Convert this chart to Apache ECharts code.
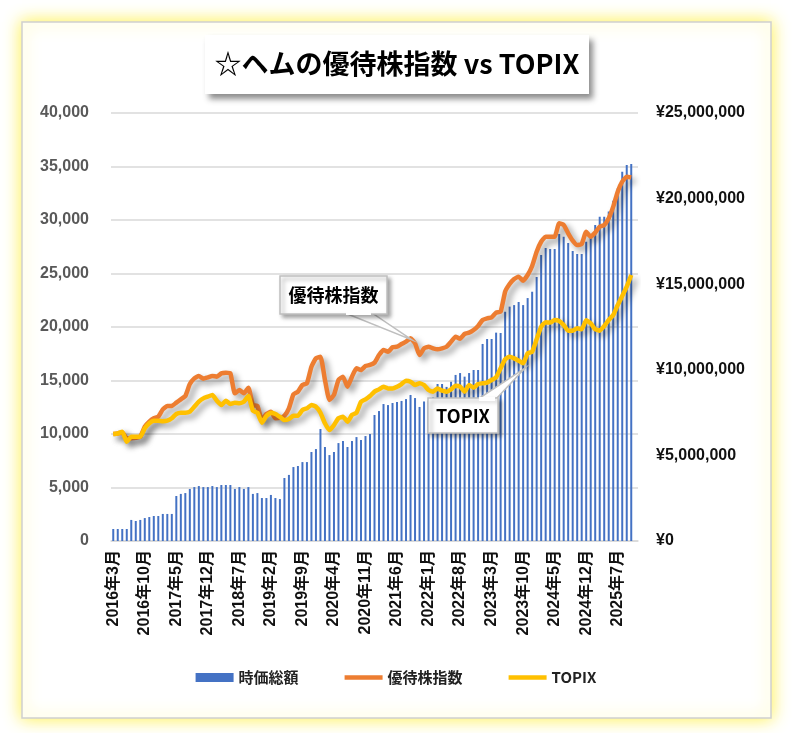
<!DOCTYPE html>
<html>
<head>
<meta charset="utf-8">
<title>☆ヘムの優待株指数 vs TOPIX</title>
<script src="https://cdn.jsdelivr.net/npm/echarts@6/dist/echarts.min.js"></script>
<style>
  html, body { margin: 0; padding: 0; background: #fff; }
  #chart { width: 792px; height: 733px; }
</style>
</head>
<body>
<div id="chart"></div>
<script>
// 月次カテゴリ 2016年3月〜2025年11月 (最終月はデータなし)
var months = [];
for (var y = 2016, m = 3; months.length < 117; m++) {
  if (m > 12) { m = 1; y++; }
  months.push(y + "年" + m + "月");
}

// 時価総額 (円)
var marketValue = [
  700000, 700000, 700000, 700000, 1230000, 1170000, 1230000, 1340000, 1400000, 1460000,
  1460000, 1580000, 1580000, 1580000, 2630000, 2750000, 2800000, 3040000, 3150000, 3210000,
  3150000, 3150000, 3210000, 3150000, 3270000, 3270000, 3270000, 3040000, 3150000, 3040000,
  3150000, 2750000, 2800000, 2510000, 2510000, 2690000, 2510000, 2450000, 3680000, 3860000,
  4320000, 4380000, 4610000, 4610000, 5200000, 5370000, 6540000, 5490000, 5020000, 5200000,
  5720000, 5840000, 5490000, 5840000, 6070000, 5900000, 6130000, 6250000, 7360000, 7590000,
  8000000, 7940000, 8060000, 8120000, 8180000, 8290000, 8530000, 8350000, 7830000, 8150000,
  8200000, 8400000, 9170000, 9170000, 9000000, 9300000, 9700000, 9810000, 9600000, 9810000,
  9990000, 9990000, 11510000, 11800000, 11800000, 12170000, 12150000, 13390000, 13690000, 13780000,
  13960000, 13780000, 14190000, 14560000, 15420000, 16710000, 17110000, 17060000, 17060000, 17930000,
  17770000, 17410000, 16940000, 16760000, 16760000, 17480000, 17770000, 18460000, 18940000, 18940000,
  19240000, 19880000, 20600000, 21570000, 21960000, 22020000
];

// 優待株指数
var yutaiIndex = [
  10000, 10050, 10150, 9590, 9600, 9650, 9750, 10680, 11150, 11470,
  11620, 12300, 12620, 12620, 12930, 13240, 13550, 14670, 15200, 15420,
  15170, 15300, 15420, 15360, 15670, 15730, 15670, 13800, 14110, 13800,
  14330, 12710, 12620, 11310, 11870, 12090, 11470, 11500, 11700, 12400,
  13700, 13960, 14580, 14740, 16290, 17070, 17220, 15050, 13180, 13650,
  15050, 15360, 14420, 15360, 16140, 15980, 16360, 16450, 16670, 17380,
  17850, 17690, 18100, 18160, 18410, 18630, 18940, 18480, 17380, 18010,
  18160, 18010, 17920, 18010, 18160, 18630, 19100, 18900, 19350, 19470,
  19720, 20100, 20650, 20810, 20900, 21340, 21430, 23300, 24020, 24490,
  24700, 24330, 24860, 25700, 27040, 27970, 28440, 28440, 28440, 29690,
  29530, 28760, 28070, 27660, 27760, 28910, 28440, 28820, 29380, 29530,
  30160, 31250, 32650, 33580, 34050, 33990
];

// TOPIX (2016年3月=10000)
var topix = [
  10000, 10050, 10220, 9280, 9750, 9750, 9750, 10530, 11000, 11240,
  11240, 11200, 11240, 11470, 11870, 11990, 11990, 12090, 12550, 13020,
  13330, 13490, 13650, 13110, 12710, 13110, 12800, 12930, 12870, 13020,
  13550, 12180, 11990, 11060, 11680, 11990, 11870, 11600, 11300, 11400,
  11700, 11700, 12240, 12400, 12710, 12550, 11990, 11000, 10370, 10840,
  11470, 11620, 11150, 11780, 11990, 13020, 13240, 13550, 13960, 14170,
  14420, 14260, 14260, 14420, 14670, 14980, 14890, 14580, 14740, 14580,
  14110, 13960, 14260, 14050, 13960, 14170, 14510, 14420, 13960, 14580,
  14330, 14670, 14740, 14800, 15050, 15300, 16140, 16980, 17220, 17070,
  16850, 16610, 17540, 17690, 18850, 20030, 20440, 20410, 20650, 20560,
  20190, 19660, 19660, 19880, 19780, 20620, 20350, 19780, 19660, 20090,
  20650, 21120, 22060, 22900, 23770, 24860
];

var chart = echarts.init(document.getElementById("chart"));

var cjk = "'Noto Sans CJK JP', sans-serif";
var num = "'Liberation Sans', 'Noto Sans CJK JP', sans-serif";
var lineShadow = {
  shadowBlur: 6,
  shadowColor: "rgba(0,0,0,0.4)",
  shadowOffsetX: 4,
  shadowOffsetY: 4
};
var boxStyle = {
  fill: "#fff",
  stroke: "#BFBFBF",
  lineWidth: 1.5,
  shadowBlur: 4,
  shadowColor: "rgba(0,0,0,0.35)",
  shadowOffsetX: 3,
  shadowOffsetY: 3
};
var lineIcon = "path://M0,0H38V4.5H0Z";

var option = {
  backgroundColor: "#fff",
  animation: false,
  grid: { left: 111, right: 154, top: 113, bottom: 192 },
  legend: {
    bottom: 43,
    left: "center",
    itemGap: 46,
    itemWidth: 38,
    itemHeight: 9,
    textStyle: { fontFamily: cjk, fontSize: 15, fontWeight: "bold", color: "#222" },
    data: [
      { name: "時価総額", icon: "rect" },
      { name: "優待株指数", icon: lineIcon },
      { name: "TOPIX", icon: lineIcon }
    ]
  },
  xAxis: {
    type: "category",
    data: months,
    boundaryGap: true,
    axisLine: { lineStyle: { color: "#D9D9D9", width: 1.5 } },
    axisTick: { interval: 6, length: 6, lineStyle: { color: "#D9D9D9", width: 1.5 } },
    axisLabel: {
      interval: 6,
      rotate: 90,
      margin: 9,
      fontFamily: num,
      fontSize: 16,
      fontWeight: "bold",
      color: "#111"
    }
  },
  yAxis: [
    {
      type: "value",
      min: 0,
      max: 40000,
      interval: 5000,
      axisLine: { show: false },
      axisTick: { show: false },
      splitLine: { lineStyle: { color: "#D9D9D9", width: 1.5 } },
      axisLabel: {
        margin: 22,
        fontFamily: num,
        fontSize: 16,
        fontWeight: "bold",
        color: "#595959",
        formatter: function (v) { return v.toLocaleString("en-US"); }
      }
    },
    {
      type: "value",
      min: 0,
      max: 25000000,
      interval: 5000000,
      position: "right",
      axisLine: { show: false },
      axisTick: { show: false },
      splitLine: { show: false },
      axisLabel: {
        margin: 18,
        fontFamily: num,
        fontSize: 16,
        fontWeight: "bold",
        color: "#111",
        formatter: function (v) { return "¥" + v.toLocaleString("en-US"); }
      }
    }
  ],
  series: [
    {
      name: "時価総額",
      type: "bar",
      yAxisIndex: 1,
      barWidth: 2,
      itemStyle: { color: "#4472C4" },
      data: marketValue
    },
    {
      name: "優待株指数",
      type: "line",
      yAxisIndex: 0,
      symbol: "none",
      smooth: 0.15,
      itemStyle: { color: "#ED7D31" },
      lineStyle: Object.assign({ color: "#ED7D31", width: 4.5, join: "round" }, lineShadow),
      data: yutaiIndex
    },
    {
      name: "TOPIX",
      type: "line",
      yAxisIndex: 0,
      symbol: "none",
      smooth: 0.15,
      itemStyle: { color: "#FFC000" },
      lineStyle: Object.assign({ color: "#FFC000", width: 4.5, join: "round" }, lineShadow),
      data: topix
    }
  ],
  graphic: [
    // 黄色く光る外枠
    {
      type: "rect",
      z: -100,
      silent: true,
      shape: { x: 22, y: 22, width: 749, height: 696 },
      style: {
        fill: "#fff",
        stroke: "#D0D0D0",
        lineWidth: 1.5,
        shadowBlur: 16,
        shadowColor: "rgba(255,240,60,0.95)"
      }
    },
    // タイトル
    {
      type: "rect",
      z: 50,
      shape: { x: 205, y: 35, width: 384, height: 59 },
      style: {
        fill: "#fff",
        shadowBlur: 6,
        shadowColor: "rgba(0,0,0,0.45)",
        shadowOffsetX: 4,
        shadowOffsetY: 5
      }
    },
    {
      type: "text",
      z: 51,
      x: 397,
      y: 64,
      style: {
        text: "☆ヘムの優待株指数 vs TOPIX",
        fontFamily: cjk,
        fontSize: 27,
        fontWeight: "bold",
        fill: "#000",
        align: "center",
        verticalAlign: "middle"
      }
    },
    // 優待株指数のラベル
    {
      type: "polygon",
      z: 60,
      shape: { points: [[345, 313], [372, 313], [412, 340]] },
      style: { fill: "#fff", stroke: "#BFBFBF", lineWidth: 1.5 }
    },
    {
      type: "rect",
      z: 61,
      shape: { x: 280, y: 276, width: 107, height: 38 },
      style: boxStyle
    },
    {
      type: "rect",
      z: 62,
      shape: { x: 346, y: 311, width: 25, height: 4 },
      style: { fill: "#fff" }
    },
    {
      type: "text",
      z: 63,
      x: 333.5,
      y: 295,
      style: {
        text: "優待株指数",
        fontFamily: cjk,
        fontSize: 18,
        fontWeight: "bold",
        fill: "#000",
        align: "center",
        verticalAlign: "middle"
      }
    },
    // TOPIXのラベル
    {
      type: "polygon",
      z: 60,
      shape: { points: [[478, 399], [496, 399], [525, 368]] },
      style: { fill: "#fff", stroke: "#BFBFBF", lineWidth: 1.5 }
    },
    {
      type: "rect",
      z: 61,
      shape: { x: 428, y: 398, width: 70, height: 35 },
      style: boxStyle
    },
    {
      type: "rect",
      z: 62,
      shape: { x: 479, y: 397, width: 16, height: 4 },
      style: { fill: "#fff" }
    },
    {
      type: "text",
      z: 63,
      x: 463,
      y: 416,
      style: {
        text: "TOPIX",
        fontFamily: cjk,
        fontSize: 18,
        fontWeight: "bold",
        fill: "#000",
        align: "center",
        verticalAlign: "middle"
      }
    }
  ]
};

chart.setOption(option);
</script>
</body>
</html>
